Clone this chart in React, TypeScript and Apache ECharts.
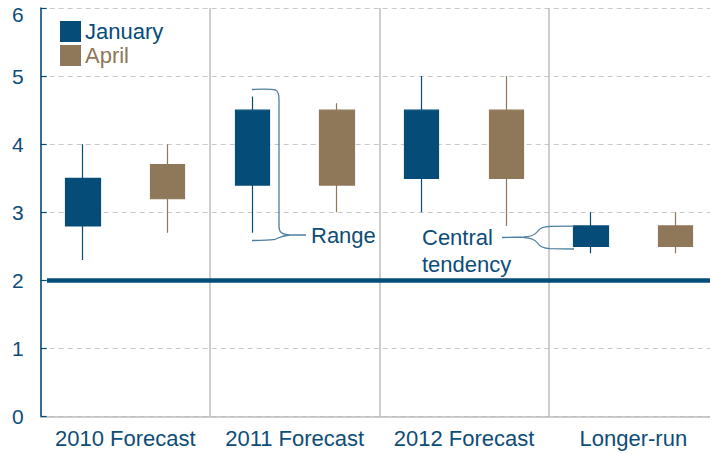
import React, { useEffect, useRef } from "react";
import * as echarts from "echarts";

const categories = ["2010 Forecast", "2011 Forecast", "2012 Forecast", "Longer-run"];
const months = ["January", "April"];
// [central tendency low, central tendency high, range low, range high]
const januaryValues = [
  [2.8, 3.5, 2.3, 4.0],
  [3.4, 4.5, 2.7, 4.7],
  [3.5, 4.5, 3.0, 5.0],
  [2.5, 2.8, 2.4, 3.0],
];
const aprilValues = [
  [3.2, 3.7, 2.7, 4.0],
  [3.4, 4.5, 3.0, 4.6],
  [3.5, 4.5, 2.8, 5.0],
  [2.5, 2.8, 2.4, 3.0],
];
const yTicks = [0, 1, 2, 3, 4, 5, 6];
const trendLevel = 2;

const BLUE = "#054C78";
const BROWN = "#8F775A";
const TEXT_BLUE = "#0E4D78";
const BRACE = "#4F7FA0";

const rangeBrace =
  "M252 89.5 C262 89 271 89 275.5 90 C278.5 91 279 94 279 100 L279 226 C279 232 281 234.3 290 235 L306 235 M290 235 C281 235.8 279 238 275 239.3 C268 240.3 260 240.5 252 240.5";
const centralBrace =
  "M502 237.5 L524 237 C532 236.6 535.5 234.5 537.5 231.5 C539.5 228.3 542.5 226.6 550 226.4 L574 226.2 M524 237.6 C532 238 535.5 240 537.5 243 C539.5 246.4 542.5 248.3 550 248.6 L574 249";

echarts.graphic.registerShape("rangeBrace", echarts.graphic.extendPath(rangeBrace, {}));
echarts.graphic.registerShape("centralBrace", echarts.graphic.extendPath(centralBrace, {}));

export default function App() {
  const ref = useRef<HTMLDivElement>(null);
  useEffect(() => {
    if (!ref.current) return;
    const chart = echarts.init(ref.current, undefined, { renderer: "svg" });
    const slots: string[] = [];
    categories.forEach((c) => months.forEach((m) => slots.push(c + " " + m)));
    const janData: any[] = [];
    const aprData: any[] = [];
    categories.forEach((_, i) => {
      janData.push(januaryValues[i], "-");
      aprData.push("-", aprilValues[i]);
    });
    const font = "'Liberation Sans', Arial, sans-serif";
    const candle = (name: string, data: any[], color: string) => ({
      name,
      type: "candlestick",
      xAxisIndex: 0,
      yAxisIndex: 0,
      barWidth: 35,
      data,
      itemStyle: {
        color,
        color0: color,
        borderColor: color,
        borderColor0: color,
        borderWidth: 1.2,
      },
    });
    const option: any = {
      animation: false,
      textStyle: { fontFamily: font },
      grid: { left: 40.7, top: 8, right: 0, bottom: 37.3, containLabel: false },
      legend: {
        orient: "vertical",
        left: 60,
        top: 20.5,
        padding: 0,
        itemWidth: 19,
        itemHeight: 19,
        itemGap: 2,
        icon: "rect",
        selectedMode: false,
        textStyle: { fontSize: 22, fontFamily: font },
        data: [
          { name: "January", textStyle: { color: BLUE } },
          { name: "April", textStyle: { color: BROWN } },
        ],
      },
      xAxis: [
        {
          type: "category",
          data: slots,
          show: false,
          boundaryGap: true,
        },
        {
          type: "category",
          data: categories,
          position: "bottom",
          boundaryGap: true,
          axisLine: { show: true, lineStyle: { color: "#bdbdbd", width: 1.5 } },
          axisTick: { show: false, interval: 0 },
          axisLabel: { interval: 0, fontSize: 22, color: TEXT_BLUE, margin: 11, fontFamily: font },
          splitLine: { show: true, interval: 0, lineStyle: { color: "#bcbcbc", width: 1.5 } },
        },
      ],
      yAxis: {
        type: "value",
        min: yTicks[0],
        max: yTicks[yTicks.length - 1],
        interval: 1,
        axisLine: { show: true, lineStyle: { color: BLUE, width: 1.5 } },
        axisTick: { show: true, inside: true, length: 6, lineStyle: { color: BLUE, width: 1.2 } },
        axisLabel: {
          margin: 17,
          formatter: (v: number) => (v === 6 ? "{t|6}" : "{n|" + v + "}"),
          rich: {
            n: { fontSize: 21, color: TEXT_BLUE, fontFamily: font },
            t: { fontSize: 21, color: TEXT_BLUE, fontFamily: font, padding: [12, 0, 0, 0] },
          },
        },
        splitLine: { show: true, lineStyle: { color: "#c8c8c8", type: [5, 4], width: 1 } },
      },
      series: [
        {
          ...candle("January", janData, BLUE),
          markLine: {
            silent: true,
            symbol: "none",
            label: { show: false },
            lineStyle: { color: BLUE, width: 4.5, type: "solid" },
            data: [[{ x: 47, yAxis: trendLevel }, { x: 720, yAxis: trendLevel }]],
          },
        },
        candle("April", aprData, BROWN),
      ],
      graphic: [
        {
          type: "rangeBrace",
          x: 0,
          y: 0,
          style: { stroke: BRACE, fill: null, lineWidth: 1.3 },
          z: 100,
        },
        {
          type: "centralBrace",
          x: 0,
          y: 0,
          style: { stroke: BRACE, fill: null, lineWidth: 1.3 },
          z: 100,
        },
        {
          type: "text",
          left: 311,
          top: 224,
          style: { text: "Range", fontSize: 22, fill: TEXT_BLUE, fontFamily: font },
          z: 100,
        },
        {
          type: "text",
          left: 422,
          top: 224,
          style: {
            text: "Central\ntendency",
            fontSize: 22,
            lineHeight: 27,
            fill: TEXT_BLUE,
            fontFamily: font,
          },
          z: 100,
        },
      ],
    };
    chart.setOption(option);
    return () => chart.dispose();
  }, []);
  return (
    <div style={{ position: "fixed", left: 0, top: 0, width: 710, height: 454, overflow: "hidden", background: "#fff" }}>
      <div ref={ref} style={{ width: 718, height: 454 }} />
    </div>
  );
}
